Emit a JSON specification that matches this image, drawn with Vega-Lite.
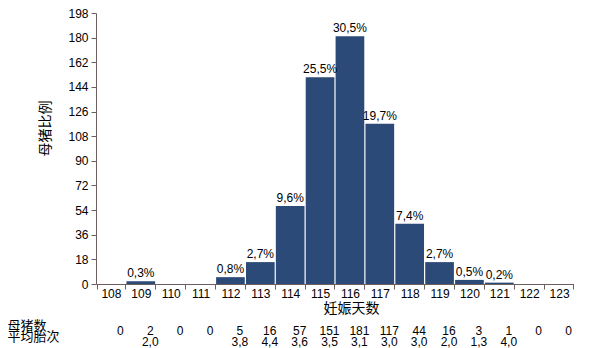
{
  "$schema": "https://vega.github.io/schema/vega-lite/v6.json",
  "padding": {"left": 7, "top": 7, "right": 0, "bottom": 0},
  "background": "white",
  "config": {"font": "Liberation Sans, Noto Sans CJK SC", "view": {"stroke": null}},
  "data": {"values": [
    {"day": "108", "母猪数": 0, "pct": "", "平均胎次": ""},
    {"day": "109", "母猪数": 2, "pct": "0,3%", "平均胎次": "2,0"},
    {"day": "110", "母猪数": 0, "pct": "", "平均胎次": ""},
    {"day": "111", "母猪数": 0, "pct": "", "平均胎次": ""},
    {"day": "112", "母猪数": 5, "pct": "0,8%", "平均胎次": "3,8"},
    {"day": "113", "母猪数": 16, "pct": "2,7%", "平均胎次": "4,4"},
    {"day": "114", "母猪数": 57, "pct": "9,6%", "平均胎次": "3,6"},
    {"day": "115", "母猪数": 151, "pct": "25,5%", "平均胎次": "3,5"},
    {"day": "116", "母猪数": 181, "pct": "30,5%", "平均胎次": "3,1"},
    {"day": "117", "母猪数": 117, "pct": "19,7%", "平均胎次": "3,0"},
    {"day": "118", "母猪数": 44, "pct": "7,4%", "平均胎次": "3,0"},
    {"day": "119", "母猪数": 16, "pct": "2,7%", "平均胎次": "2,0"},
    {"day": "120", "母猪数": 3, "pct": "0,5%", "平均胎次": "1,3"},
    {"day": "121", "母猪数": 1, "pct": "0,2%", "平均胎次": "4,0"},
    {"day": "122", "母猪数": 0, "pct": "", "平均胎次": ""},
    {"day": "123", "母猪数": 0, "pct": "", "平均胎次": ""}
  ]},
  "spacing": 4,
  "vconcat": [
    {
      "width": 478,
      "height": 271,
      "layer": [
        {
          "mark": {"type": "bar", "color": "#2c4a78"},
          "encoding": {
            "x": {
              "field": "day", "type": "ordinal",
              "scale": {"paddingInner": 0.04, "paddingOuter": 0.02},
              "axis": {
                "title": "妊娠天数", "titleFontSize": 14, "titleFontWeight": "normal", "titleColor": "black",
                "titleX": 255, "titleY": 17,
                "labelAngle": 0, "labelFontSize": 12, "labelPadding": -1, "labelColor": "black",
                "labelOverlap": false,
                "tickBand": "extent", "tickSize": 5,
                "domainColor": "#6e5f5f", "tickColor": "#6e5f5f"
              }
            },
            "y": {
              "field": "母猪数", "type": "quantitative",
              "scale": {"domain": [0, 198], "nice": false},
              "axis": {
                "values": [0, 18, 36, 54, 72, 90, 108, 126, 144, 162, 180, 198],
                "tickCount": 30,
                "grid": false, "labelOverlap": false,
                "title": "母猪比例", "titleFontSize": 14, "titleFontWeight": "normal", "titleColor": "black",
                "titleX": -44, "titleY": 115,
                "labelFontSize": 12, "labelPadding": 3, "labelColor": "black", "tickSize": 5,
                "domainColor": "#6e5f5f", "tickColor": "#6e5f5f"
              }
            }
          }
        },
        {
          "transform": [{"filter": "datum.pct != ''"}],
          "mark": {"type": "text", "baseline": "bottom", "dy": -1, "fontSize": 12, "color": "black"},
          "encoding": {
            "x": {"field": "day", "type": "ordinal"},
            "y": {"field": "母猪数", "type": "quantitative"},
            "text": {"field": "pct"}
          }
        }
      ]
    },
    {
      "width": 478,
      "height": 22,
      "transform": [{"fold": ["母猪数", "平均胎次"], "as": ["row", "value"]}],
      "mark": {"type": "text", "fontSize": 12, "color": "black", "baseline": "middle"},
      "encoding": {
        "x": {
          "field": "day", "type": "ordinal", "bandPosition": 0.83,
          "scale": {"type": "band", "paddingInner": 0.04, "paddingOuter": 0.02},
          "axis": null
        },
        "y": {
          "field": "row", "type": "nominal", "sort": ["母猪数", "平均胎次"],
          "scale": {"type": "point", "padding": 0.5},
          "axis": {
            "title": null, "domain": false, "ticks": false, "tickSize": 0,
            "labelAlign": "left", "labelPadding": 89, "labelOffset": -5,
            "labelFontSize": 13, "labelColor": "black", "labelBaseline": "middle",
            "labelOverlap": false
          }
        },
        "text": {"field": "value", "type": "nominal"}
      }
    }
  ]
}
